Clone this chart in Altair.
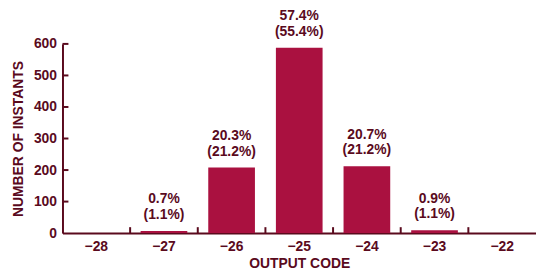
import altair as alt
import pandas as pd

codes = [-28, -27, -26, -25, -24, -23, -22]
counts = [0, 7, 208, 588, 212, 9, 0]
pct_measured = ["", "0.7%", "20.3%", "57.4%", "20.7%", "0.9%", ""]
pct_expected = ["", "(1.1%)", "(21.2%)", "(55.4%)", "(21.2%)", "(1.1%)", ""]
y_ticks = [100, 200, 300, 400, 500, 600]

BAR = "#aa1140"
INK = "#5a0a1d"
FONT = "Liberation Sans"

df = pd.DataFrame({
    "code": [str(c).replace("-", "\u2212") for c in codes],
    "count": counts,
    "measured": pct_measured,
    "expected": pct_expected,
})
order = list(df["code"])
tick_df = pd.DataFrame({"code": order[1:]})
ytick_df = pd.DataFrame({"count": y_ticks})

x = alt.X("code:N", sort=order, title="OUTPUT CODE",
          scale=alt.Scale(paddingInner=0, paddingOuter=0),
          axis=alt.Axis(labelAngle=0, ticks=False, labelPadding=7,
                        titlePadding=3))
y_axis = alt.Axis(values=[0] + y_ticks, ticks=False, labelPadding=6,
                  labelOverlap=False, titlePadding=8, grid=False)
y = alt.Y("count:Q", title="NUMBER OF INSTANTS",
          scale=alt.Scale(domain=[0, 600], nice=False), axis=y_axis)

bars = alt.Chart(df).mark_bar(color=BAR, width=alt.RelativeBandSize(0.69)).encode(x=x, y=y)

txt = dict(baseline="bottom", font=FONT, fontSize=14, fontWeight="bold", color=INK)
lab2 = alt.Chart(df).mark_text(dy=-9, **txt).encode(x=x, y=y, text="expected:N")
lab1 = alt.Chart(df).mark_text(dy=-25, **txt).encode(x=x, y=y, text="measured:N")

xticks = alt.Chart(tick_df).mark_rule(color=INK, strokeWidth=2).encode(
    x=alt.X("code:N", sort=order, bandPosition=0, title="OUTPUT CODE",
            scale=alt.Scale(paddingInner=0, paddingOuter=0),
            axis=alt.Axis(labelAngle=0, ticks=False, labelPadding=7, titlePadding=3)),
    y=alt.value(191), y2=alt.value(185))
yticks = alt.Chart(ytick_df).mark_rule(color=INK, strokeWidth=2).encode(
    y=y, x=alt.value(0), x2=alt.value(6))

chart = (bars + lab2 + lab1 + xticks + yticks).properties(
    width=478, height=191,
    autosize=alt.AutoSizeParams(type="none"),
    padding={"left": 55, "top": 35, "right": 0, "bottom": 38},
).configure_view(stroke=None).configure_axis(
    domainColor=INK, domainWidth=2,
    labelColor=INK, titleColor=INK, labelFont=FONT, titleFont=FONT,
    labelFontSize=14, titleFontSize=14, labelFontWeight="bold",
    titleFontWeight="bold",
)

chart.save("out.html", embed_options={"renderer": "svg", "actions": False})
